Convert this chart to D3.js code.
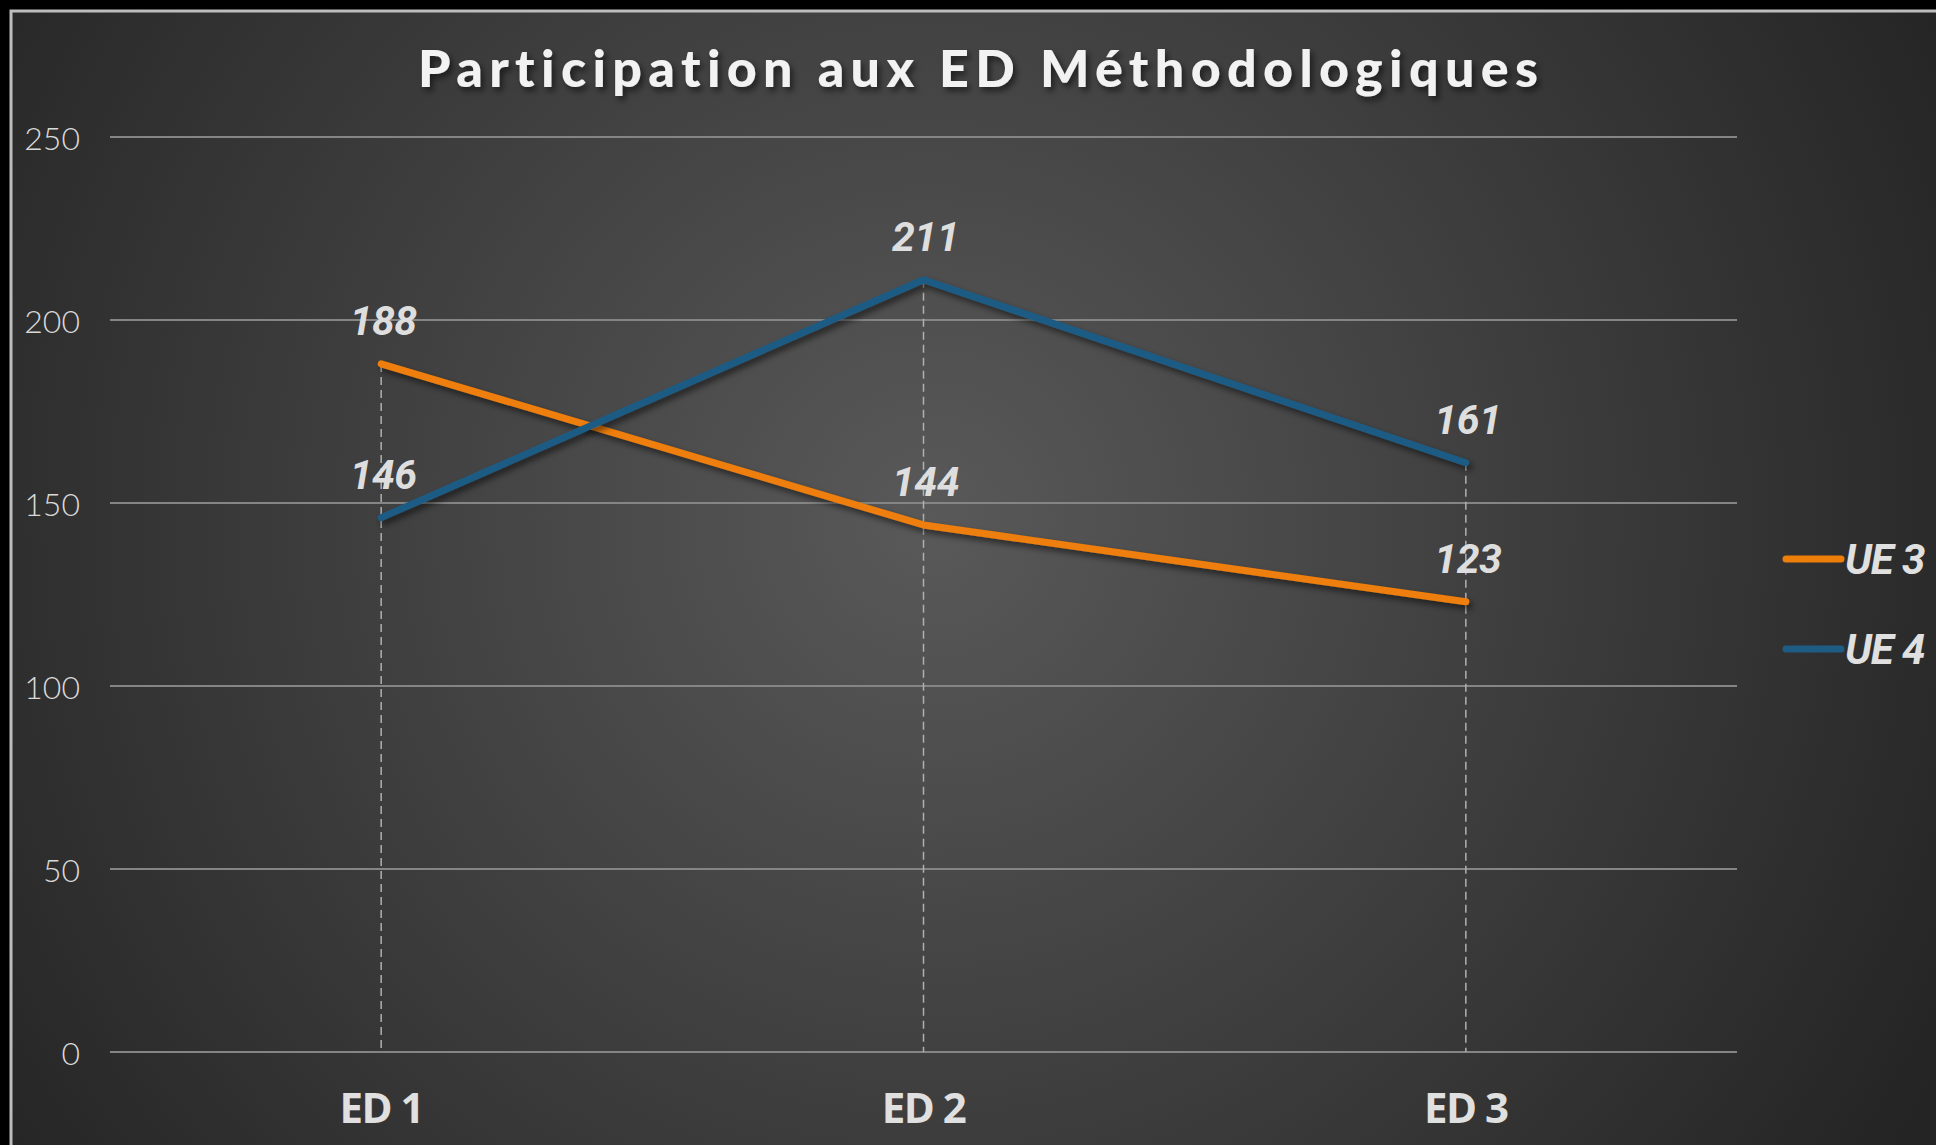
<!DOCTYPE html>
<html>
<head>
<meta charset="utf-8">
<script src="https://cdn.jsdelivr.net/npm/d3@7"></script>
<style>
  body { margin: 0; background: #000; overflow: hidden; }
  text { font-variant-ligatures: none; }
</style>
</head>
<body>
<div id="chart"></div>
<script>
const categories = ["ED 1", "ED 2", "ED 3"];
const ue3 = [188, 144, 123];
const ue4 = [146, 211, 161];
const seriesNames = ["UE 3", "UE 4"];
const yTicks = [0, 50, 100, 150, 200, 250];
const title = "Participation aux ED Méthodologiques";

const W = 1936, H = 1145;
const margin = { top: 137, right: 199, bottom: 93, left: 110 },
  width = W - margin.left - margin.right,
  height = H - margin.top - margin.bottom;

const colors = ["#ee7e0a", "#1f5c84"];
const series = [ue3, ue4].map((vals, i) => ({ name: seriesNames[i], color: colors[i], values: vals }));

const root = d3.select("#chart").append("svg").attr("width", W).attr("height", H);
const defs = root.append("defs");

// background gradient
const grad = defs.append("radialGradient").attr("id", "bg")
  .attr("gradientUnits", "userSpaceOnUse")
  .attr("cx", 930).attr("cy", 520).attr("r", 1150);
grad.append("stop").attr("offset", "0%").attr("stop-color", "#595959");
grad.append("stop").attr("offset", "100%").attr("stop-color", "#242424");

const shadow = defs.append("filter").attr("id", "shadow")
  .attr("x", "-20%").attr("y", "-20%").attr("width", "140%").attr("height", "140%");
shadow.append("feDropShadow").attr("dx", 3).attr("dy", 4).attr("stdDeviation", 3)
  .attr("flood-color", "#000").attr("flood-opacity", 0.55);

root.append("rect").attr("x", 11).attr("y", 11).attr("width", W + 20).attr("height", H + 20)
  .attr("fill", "url(#bg)").attr("stroke", "#bdbdbd").attr("stroke-width", 3);

// title
root.append("text")
  .attr("x", 978).attr("y", 87)
  .attr("text-anchor", "middle")
  .attr("font-family", "Lato, 'Open Sans', sans-serif")
  .attr("font-weight", 900)
  .attr("font-size", 52)
  .attr("textLength", 1120).attr("lengthAdjust", "spacing")
  .attr("fill", "#f2f2f2")
  .attr("filter", "url(#shadow)")
  .text(title);

const svg = root.append("g").attr("transform", `translate(${margin.left},${margin.top})`);

const x = d3.scalePoint().domain(categories).range([0, width]).padding(0.5);
const y = d3.scaleLinear().domain([0, 250]).range([height, 0]);

// gridlines
svg.append("g").selectAll("line").data(yTicks).join("line")
  .attr("x1", 0).attr("x2", width)
  .attr("y1", (d) => y(d)).attr("y2", (d) => y(d))
  .attr("stroke", "#858585").attr("stroke-width", 2);

// y labels
svg.append("g").selectAll("text").data(yTicks).join("text")
  .attr("x", -30).attr("y", (d) => y(d))
  .attr("text-anchor", "end").attr("dominant-baseline", "central")
  .attr("font-family", "Lato, 'Open Sans', sans-serif")
  .attr("font-weight", 300).attr("font-size", 32)
  .attr("fill", "#d9d9d9")
  .text((d) => d);

// x labels
svg.append("g").selectAll("text").data(categories).join("text")
  .attr("x", (d) => x(d)).attr("y", height + 71)
  .attr("text-anchor", "middle")
  .attr("font-family", "'Open Sans', sans-serif")
  .attr("font-weight", 700).attr("font-size", 42)
  .attr("letter-spacing", -1.5)
  .attr("fill", "#e0e0e0")
  .text((d) => d);

// drop lines
svg.append("g").selectAll("line").data(categories).join("line")
  .attr("x1", (d) => x(d)).attr("x2", (d) => x(d))
  .attr("y1", (d, i) => y(d3.max(series, (s) => s.values[i])))
  .attr("y2", height)
  .attr("stroke", "#b0b0b0").attr("stroke-width", 1.5)
  .attr("stroke-dasharray", "8,5");

const line = d3.line().x((d, i) => x(categories[i])).y((d) => y(d));

series.forEach((s) => {
  svg.append("path")
    .datum(s.values)
    .attr("fill", "none")
    .attr("stroke", s.color)
    .attr("stroke-width", 7)
    .attr("stroke-linecap", "round")
    .attr("stroke-linejoin", "round")
    .attr("filter", "url(#shadow)")
    .attr("d", line);
});

const labelFont = "Roboto, 'DejaVu Sans', sans-serif";

series.forEach((s) => {
  svg.append("g").selectAll("text").data(s.values).join("text")
    .attr("x", (d, i) => x(categories[i]) + 2)
    .attr("y", (d) => y(d) - 29)
    .attr("text-anchor", "middle")
    .attr("font-family", labelFont)
    .attr("font-weight", 700).attr("font-style", "italic")
    .attr("font-size", 41)
    .attr("letter-spacing", -0.5)
    .attr("fill", "#dedede")
    .text((d) => d);
});

// legend
const legend = root.append("g").attr("transform", "translate(1783,559)");
series.forEach((s, i) => {
  const g = legend.append("g").attr("transform", `translate(0,${i * 90})`);
  g.append("line").attr("x1", 3).attr("x2", 58)
    .attr("stroke", s.color).attr("stroke-width", 7).attr("stroke-linecap", "round");
  g.append("text").attr("x", 62).attr("y", 0)
    .attr("dominant-baseline", "central")
    .attr("font-family", labelFont)
    .attr("font-weight", 700).attr("font-style", "italic")
    .attr("font-size", 42)
    .attr("letter-spacing", -1)
    .attr("fill", "#e0e0e0")
    .text(s.name);
});
</script>
</body>
</html>
